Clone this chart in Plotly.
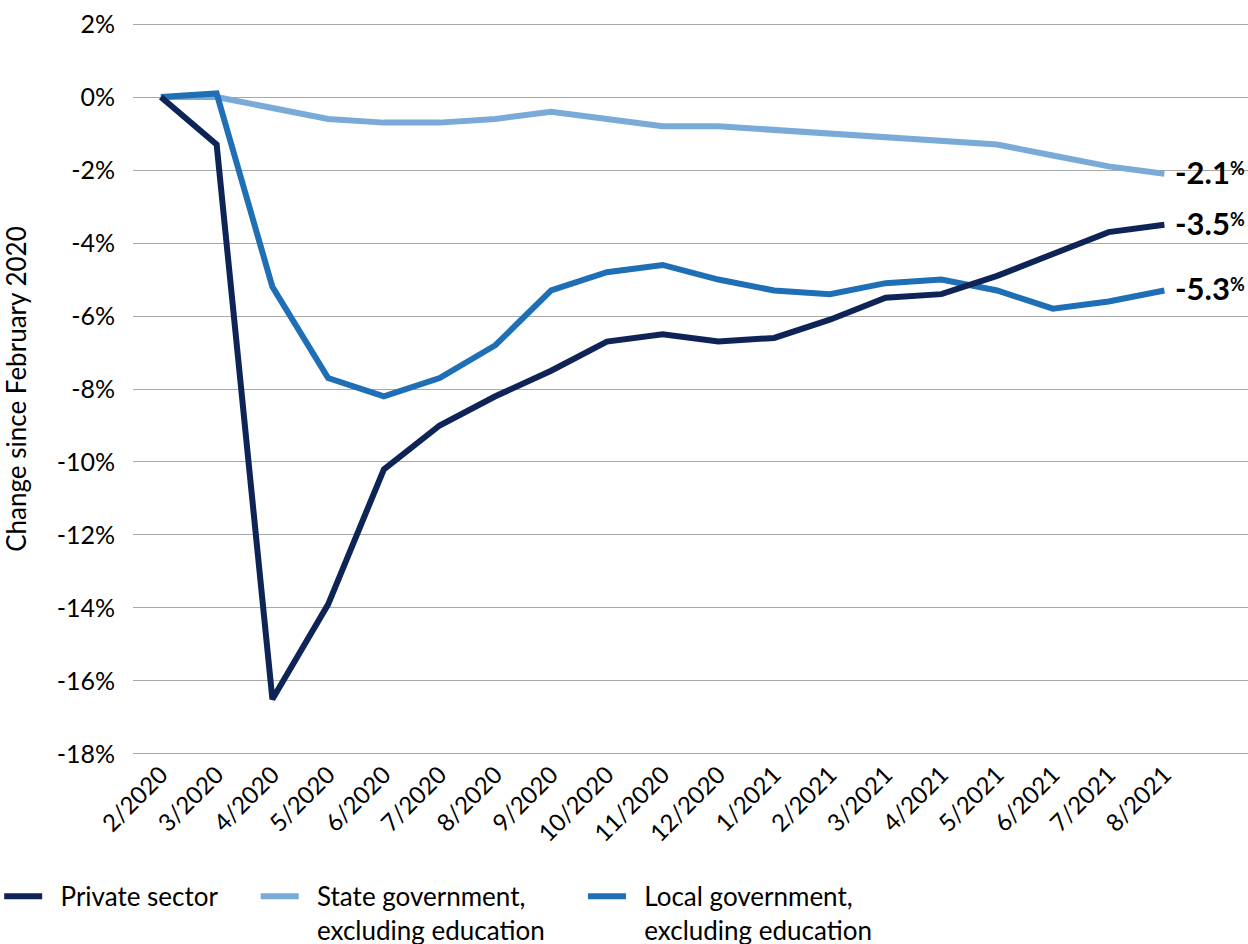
import plotly.graph_objects as go

months = ["2/2020", "3/2020", "4/2020", "5/2020", "6/2020", "7/2020", "8/2020", "9/2020",
          "10/2020", "11/2020", "12/2020", "1/2021", "2/2021", "3/2021", "4/2021", "5/2021",
          "6/2021", "7/2021", "8/2021"]

private_sector = [0.0, -1.3, -16.5, -13.9, -10.2, -9.0, -8.2, -7.5, -6.7, -6.5, -6.7, -6.6,
                  -6.1, -5.5, -5.4, -4.9, -4.3, -3.7, -3.5]
state_gov = [0.0, 0.0, -0.3, -0.6, -0.7, -0.7, -0.6, -0.4, -0.6, -0.8, -0.8, -0.9,
             -1.0, -1.1, -1.2, -1.3, -1.6, -1.9, -2.1]
local_gov = [0.0, 0.1, -5.2, -7.7, -8.2, -7.7, -6.8, -5.3, -4.8, -4.6, -5.0, -5.3,
             -5.4, -5.1, -5.0, -5.3, -5.8, -5.6, -5.3]

y_tickvals = [2, 0, -2, -4, -6, -8, -10, -12, -14, -16, -18]
y_ticktext = ["2%", "0%", "-2%", "-4%", "-6%", "-8%", "-10%", "-12%", "-14%", "-16%", "-18%"]

NB = "\u00a0"
LEAD, TRAIL = NB * 2, NB * 5
series_names = [LEAD + "Private sector" + TRAIL,
                LEAD + "State government,<br>" + LEAD + "excluding education" + TRAIL,
                LEAD + "Local government,<br>" + LEAD + "excluding education"]
colors = ["#0f2456", "#7aaad8", "#1f6fb6"]
end_labels = ["-3.5", "-2.1", "-5.3"]

FONT = "Lato, 'Open Sans', sans-serif"

fig = go.Figure()
series = [private_sector, state_gov, local_gov]
draw_order = [1, 2, 0]
for i in draw_order:
    fig.add_trace(go.Scatter(x=months, y=series[i], mode="lines", name=series_names[i],
                             line=dict(color=colors[i], width=6), hoverinfo="skip",
                             legendrank=i + 1))

annotations = []
for vals, lab in zip(series, end_labels):
    annotations.append(dict(x=months[-1], y=vals[-1], xref="x", yref="y",
                            text="<b>" + lab
                                 + "<span style='font-size:18px;baseline-shift:9px'>%</span></b>",
                            showarrow=False,
                            xanchor="left", yanchor="middle", xshift=9, yshift=2,
                            font=dict(family=FONT, size=31, color="#000000")))

fig.update_layout(
    width=1248, height=944,
    margin=dict(l=133, r=0, t=23, b=189, autoexpand=False),
    paper_bgcolor="white", plot_bgcolor="white",
    font=dict(family=FONT, size=25, color="#000000"),
    showlegend=True,
    legend=dict(orientation="h", x=-0.12, y=-0.161, xanchor="left", yanchor="top",
                font=dict(family=FONT, size=26, color="#000000"),
                traceorder="normal", itemwidth=38, valign="top"),
    annotations=annotations,
    xaxis=dict(type="category", categoryorder="array", categoryarray=months,
               range=[-0.5, 19.5], tickangle=-45, showgrid=False, zeroline=False,
               showline=False, ticks="", automargin=False, ticklabeloverflow="allow",
               tickfont=dict(family=FONT, size=24)),
    yaxis=dict(range=[-18.03, 2.03], tickvals=y_tickvals, ticktext=y_ticktext,
               showgrid=True, gridcolor="#a8a8a8", gridwidth=1.2, zeroline=False,
               showline=False, ticks="", ticklabelstandoff=17, automargin=False,
               ticklabeloverflow="allow",
               tickfont=dict(family=FONT, size=25),
               title=dict(text="Change since February 2020", standoff=40,
                          font=dict(family=FONT, size=26))),
)

fig.write_html("out.html", config={"displayModeBar": False},
               post_script="document.body.style.margin='0px';")
